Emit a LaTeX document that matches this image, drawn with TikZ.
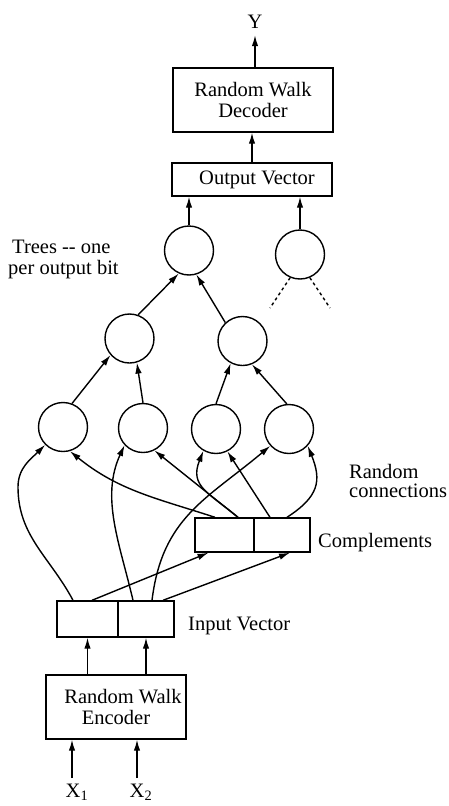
\documentclass[tikz,border=0pt]{standalone}
\usepackage{fontspec}
\setmainfont{Liberation Serif}
\usetikzlibrary{arrows.meta}
\begin{document}
\begin{tikzpicture}[x=1pt,y=-1pt,
  lw/.style={line width=1.4pt},
  arr/.style={lw,-{Latex[length=11pt,width=6.5pt]}},
  unit/.style={circle,draw,lw,minimum size=49pt,inner sep=0pt},
  blockbox/.style={draw,lw,rectangle,inner sep=0pt,align=center},
  cell/.style={draw,lw,rectangle,inner sep=0pt},
  lbl/.style={inner sep=0pt},
  dotline/.style={lw,dash pattern=on 3pt off 3pt},
  font=\fontsize{20.5}{21}\selectfont]
\useasboundingbox (0,0) rectangle (449,806);

% decoder side
\node[lbl,anchor=base] (Y) at (255,28) {Y};
\node[blockbox,minimum width=160pt,minimum height=64pt] (dec) at (253,100) {Random Walk\\Decoder};
\node[blockbox,minimum width=160pt,minimum height=33pt] (outv) at (252,179.5) {\hspace*{10pt}Output Vector};

% trees of units
\node[unit] (t0) at (189,250.5) {};
\node[unit] (t1) at (300,254.5) {};
\node[unit] (m0) at (129.5,338.5) {};
\node[unit] (m1) at (242.5,341) {};
\node[unit] (b0) at (63,427) {};
\node[unit] (b1) at (143,428) {};
\node[unit] (b2) at (216,429) {};
\node[unit] (b3) at (289,429) {};

% vectors
\node[cell,minimum width=59pt,minimum height=34pt] (compL) at (224.5,535) {};
\node[cell,minimum width=56pt,minimum height=34pt] (compR) at (282,535) {};
\node[cell,minimum width=61pt,minimum height=36pt] (inL) at (87.5,619) {};
\node[cell,minimum width=56pt,minimum height=36pt] (inR) at (146,619) {};

% encoder and inputs
\node[blockbox,minimum width=140pt,minimum height=64pt] (enc) at (116,707) {\hspace*{14pt}Random Walk\\Encoder};
\node[lbl,anchor=base west] (x1) at (65.5,797) {X\textsubscript{1}};
\node[lbl,anchor=base west] (x2) at (129.5,797) {X\textsubscript{2}};
\coordinate (x1top) at (72,778);
\coordinate (x2top) at (137,778);

% side labels
\node[lbl,anchor=base west] (treesA) at (12,253) {Trees -{}- one};
\node[lbl,anchor=base west] (treesB) at (8,274) {per output bit};
\node[lbl,anchor=base west] (rcA) at (349,478) {Random};
\node[lbl,anchor=base west] (rcB) at (349,497) {connections};
\node[lbl,anchor=base west] (compT) at (318,547) {Complements};
\node[lbl,anchor=base west] (inT) at (188,630) {Input Vector};

% vertical flow
\draw[arr] (x1top) -- (x1top |- enc.south);
\draw[arr] (x2top) -- (x2top |- enc.south);
\draw[arr] (enc.north -| inL) -- (inL.south);
\draw[arr] (enc.north -| inR) -- (inR.south);
\draw[arr] (outv.north) -- (outv.north |- dec.south);
\draw[arr] (dec.north -| Y) -- ([yshift=-7pt]Y.south);
\draw[arr] (t0.north) -- (t0.north |- outv.south);
\draw[arr] (t1.north) -- (t1.north |- outv.south);

% tree edges
\draw[arr] (m0.70) -- (t0.246);
\draw[arr] (m1.133) -- (t0.287);
\draw[arr] (b0.69) -- (m0.221);
\draw[arr] (b1.90) -- (m0.287);
\draw[arr] (b2.90) -- (m1.242);
\draw[arr] (b3.95) -- (m1.292);

% further trees, elided
\coordinate (dl) at (270,308);
\coordinate (dr) at (330,308);
\draw[dotline] (t1.247) -- (dl);
\draw[dotline] (t1.293) -- (dr);

% input vector to complements
\draw[arr] ([xshift=4.5pt]inL.north) -- ([xshift=-16pt]compL.south);
\draw[arr] ([xshift=17pt]inR.north) -- ([xshift=8pt]compR.south);

% random connections from the input vector
\draw[arr] ([xshift=-14.5pt]inL.north) to[out=118,in=270] (18,487) to[out=90,in=225] (b0.225);
\draw[arr] ([xshift=-13pt]inR.north) to[out=103,in=245,looseness=0.95] (b1.223);
\draw[arr] ([xshift=6pt]inR.north) to[out=83,in=220,looseness=1.1] (b3.222);

% random connections from the complements
\draw[arr] ([xshift=-9.5pt]compL.north) to[out=162,in=321] (b0.286);
\draw[arr] ([xshift=13.5pt]compL.north) -- (b1.297);
\draw[arr] ([xshift=13.5pt]compL.north) to[out=140,in=248,looseness=1.3] (b2.240);
\draw[arr] ([xshift=-12pt]compR.north) -- (b2.297);
\draw[arr] ([xshift=5pt]compR.north) to[out=33,in=292,looseness=1.3] (b3.318);
\end{tikzpicture}
\end{document}
